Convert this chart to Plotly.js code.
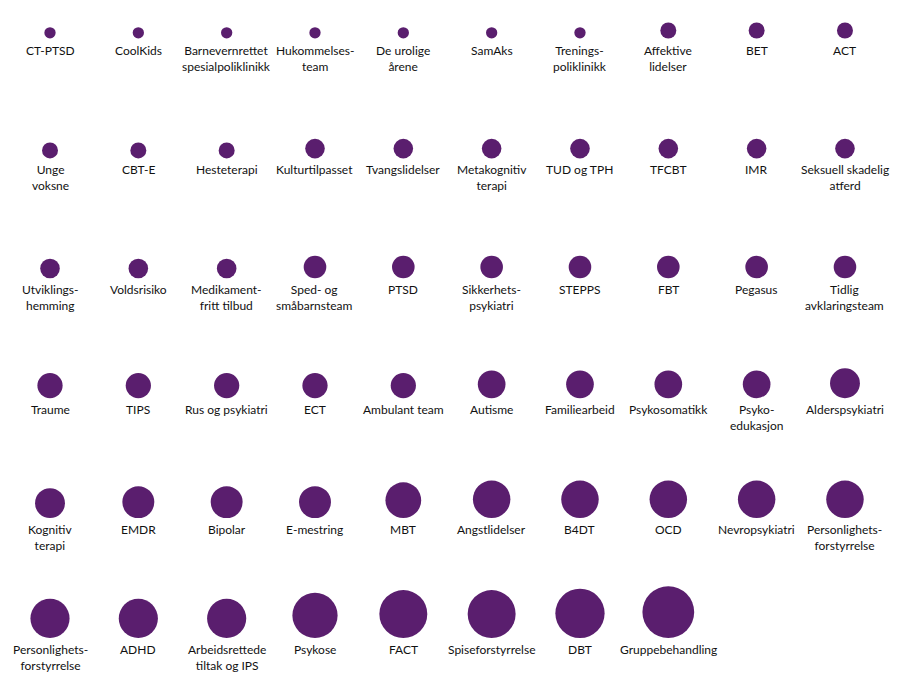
<!DOCTYPE html>
<html>
<head>
<meta charset="utf-8">
<script src="https://cdn.plot.ly/plotly-3.0.1.min.js"></script>
<style>html,body{margin:0;padding:0;background:#fff;}#chart{width:902px;height:698px;}</style>
</head>
<body>
<div id="chart"></div>
<script>
// ---- data ----
const labels = [
  "CT-PTSD","CoolKids","Barnevernrettet<br>spesialpoliklinikk","Hukommelses-<br>team","De urolige<br>årene","SamAks","Trenings-<br>poliklinikk","Affektive<br>lidelser","BET","ACT",
  "Unge<br>voksne","CBT-E","Hesteterapi","Kulturtilpasset","Tvangslidelser","Metakognitiv<br>terapi","TUD og TPH","TFCBT","IMR","Seksuell skadelig<br>atferd",
  "Utviklings-<br>hemming","Voldsrisiko","Medikament-<br>fritt tilbud","Sped- og<br>småbarnsteam","PTSD","Sikkerhets-<br>psykiatri","STEPPS","FBT","Pegasus","Tidlig<br>avklaringsteam",
  "Traume","TIPS","Rus og psykiatri","ECT","Ambulant team","Autisme","Familiearbeid","Psykosomatikk","Psyko-<br>edukasjon","Alderspsykiatri",
  "Kognitiv<br>terapi","EMDR","Bipolar","E-mestring","MBT","Angstlidelser","B4DT","OCD","Nevropsykiatri","Personlighets-<br>forstyrrelse",
  "Personlighets-<br>forstyrrelse","ADHD","Arbeidsrettede<br>tiltak og IPS","Psykose","FACT","Spiseforstyrrelse","DBT","Gruppebehandling"
];
const values = [
  1,1,1,1,1,1,1,2,2,2,
  2,2,2,3,3,3,3,3,3,3,
  3,3,3,4,4,4,4,4,4,4,
  5,5,5,5,5,6,6,6,6,7,
  7,8,8,8,10,11,11,11,11,11,
  12,12,12,16,18,18,19,21
];

// ---- layout constants ----
const W = 902, H = 698;
const COLS = 10;
const colPx = 88.33, firstColPx = 50;
const rowPx = 119.9, firstRowBasePx = 38.5;
const SIZEREF = 2 / (11.3 * 11.3);   // area mode: diameter = 11.3*sqrt(v)
const COLOR = '#5a1e6e';

const x0 = -firstColPx / colPx, xSpan = W / colPx;
const y0 = -firstRowBasePx / rowPx, ySpan = H / rowPx;

const cols = values.map((v, i) => i % COLS);
const rows = values.map((v, i) => Math.floor(i / COLS));
// circles are bottom-aligned on the row baseline
const diam = values.map(v => Math.sqrt(2 * v / SIZEREF));
const yCenter = rows.map((r, i) => r - (diam[i] / 2) / rowPx);

const trace = {
  type: 'scatter', mode: 'markers',
  x: cols, y: yCenter,
  text: labels.map(l => l.replace(/<br>/g, ' ')),
  customdata: values,
  hovertemplate: '%{text}: %{customdata}<extra></extra>',
  marker: { size: values, sizemode: 'area', sizeref: SIZEREF, color: COLOR, line: { width: 0 }, opacity: 1 }
};

const annotations = labels.map((l, i) => ({
  x: cols[i], y: rows[i], xref: 'x', yref: 'y',
  text: l, showarrow: false, xanchor: 'center', yanchor: 'top', yshift: -2,
  align: 'center',
  font: { family: 'Lato, "Open Sans", sans-serif', size: 12, color: '#111111' }
}));

const layout = {
  width: W, height: H,
  margin: { l: 0, r: 0, t: 0, b: 0 },
  paper_bgcolor: '#ffffff', plot_bgcolor: '#ffffff',
  showlegend: false,
  xaxis: { range: [x0, x0 + xSpan], visible: false, fixedrange: true },
  yaxis: { range: [y0 + ySpan, y0], visible: false, fixedrange: true },
  annotations: annotations
};

Plotly.newPlot('chart', [trace], layout, { displayModeBar: false, staticPlot: true });
</script>
</body>
</html>
